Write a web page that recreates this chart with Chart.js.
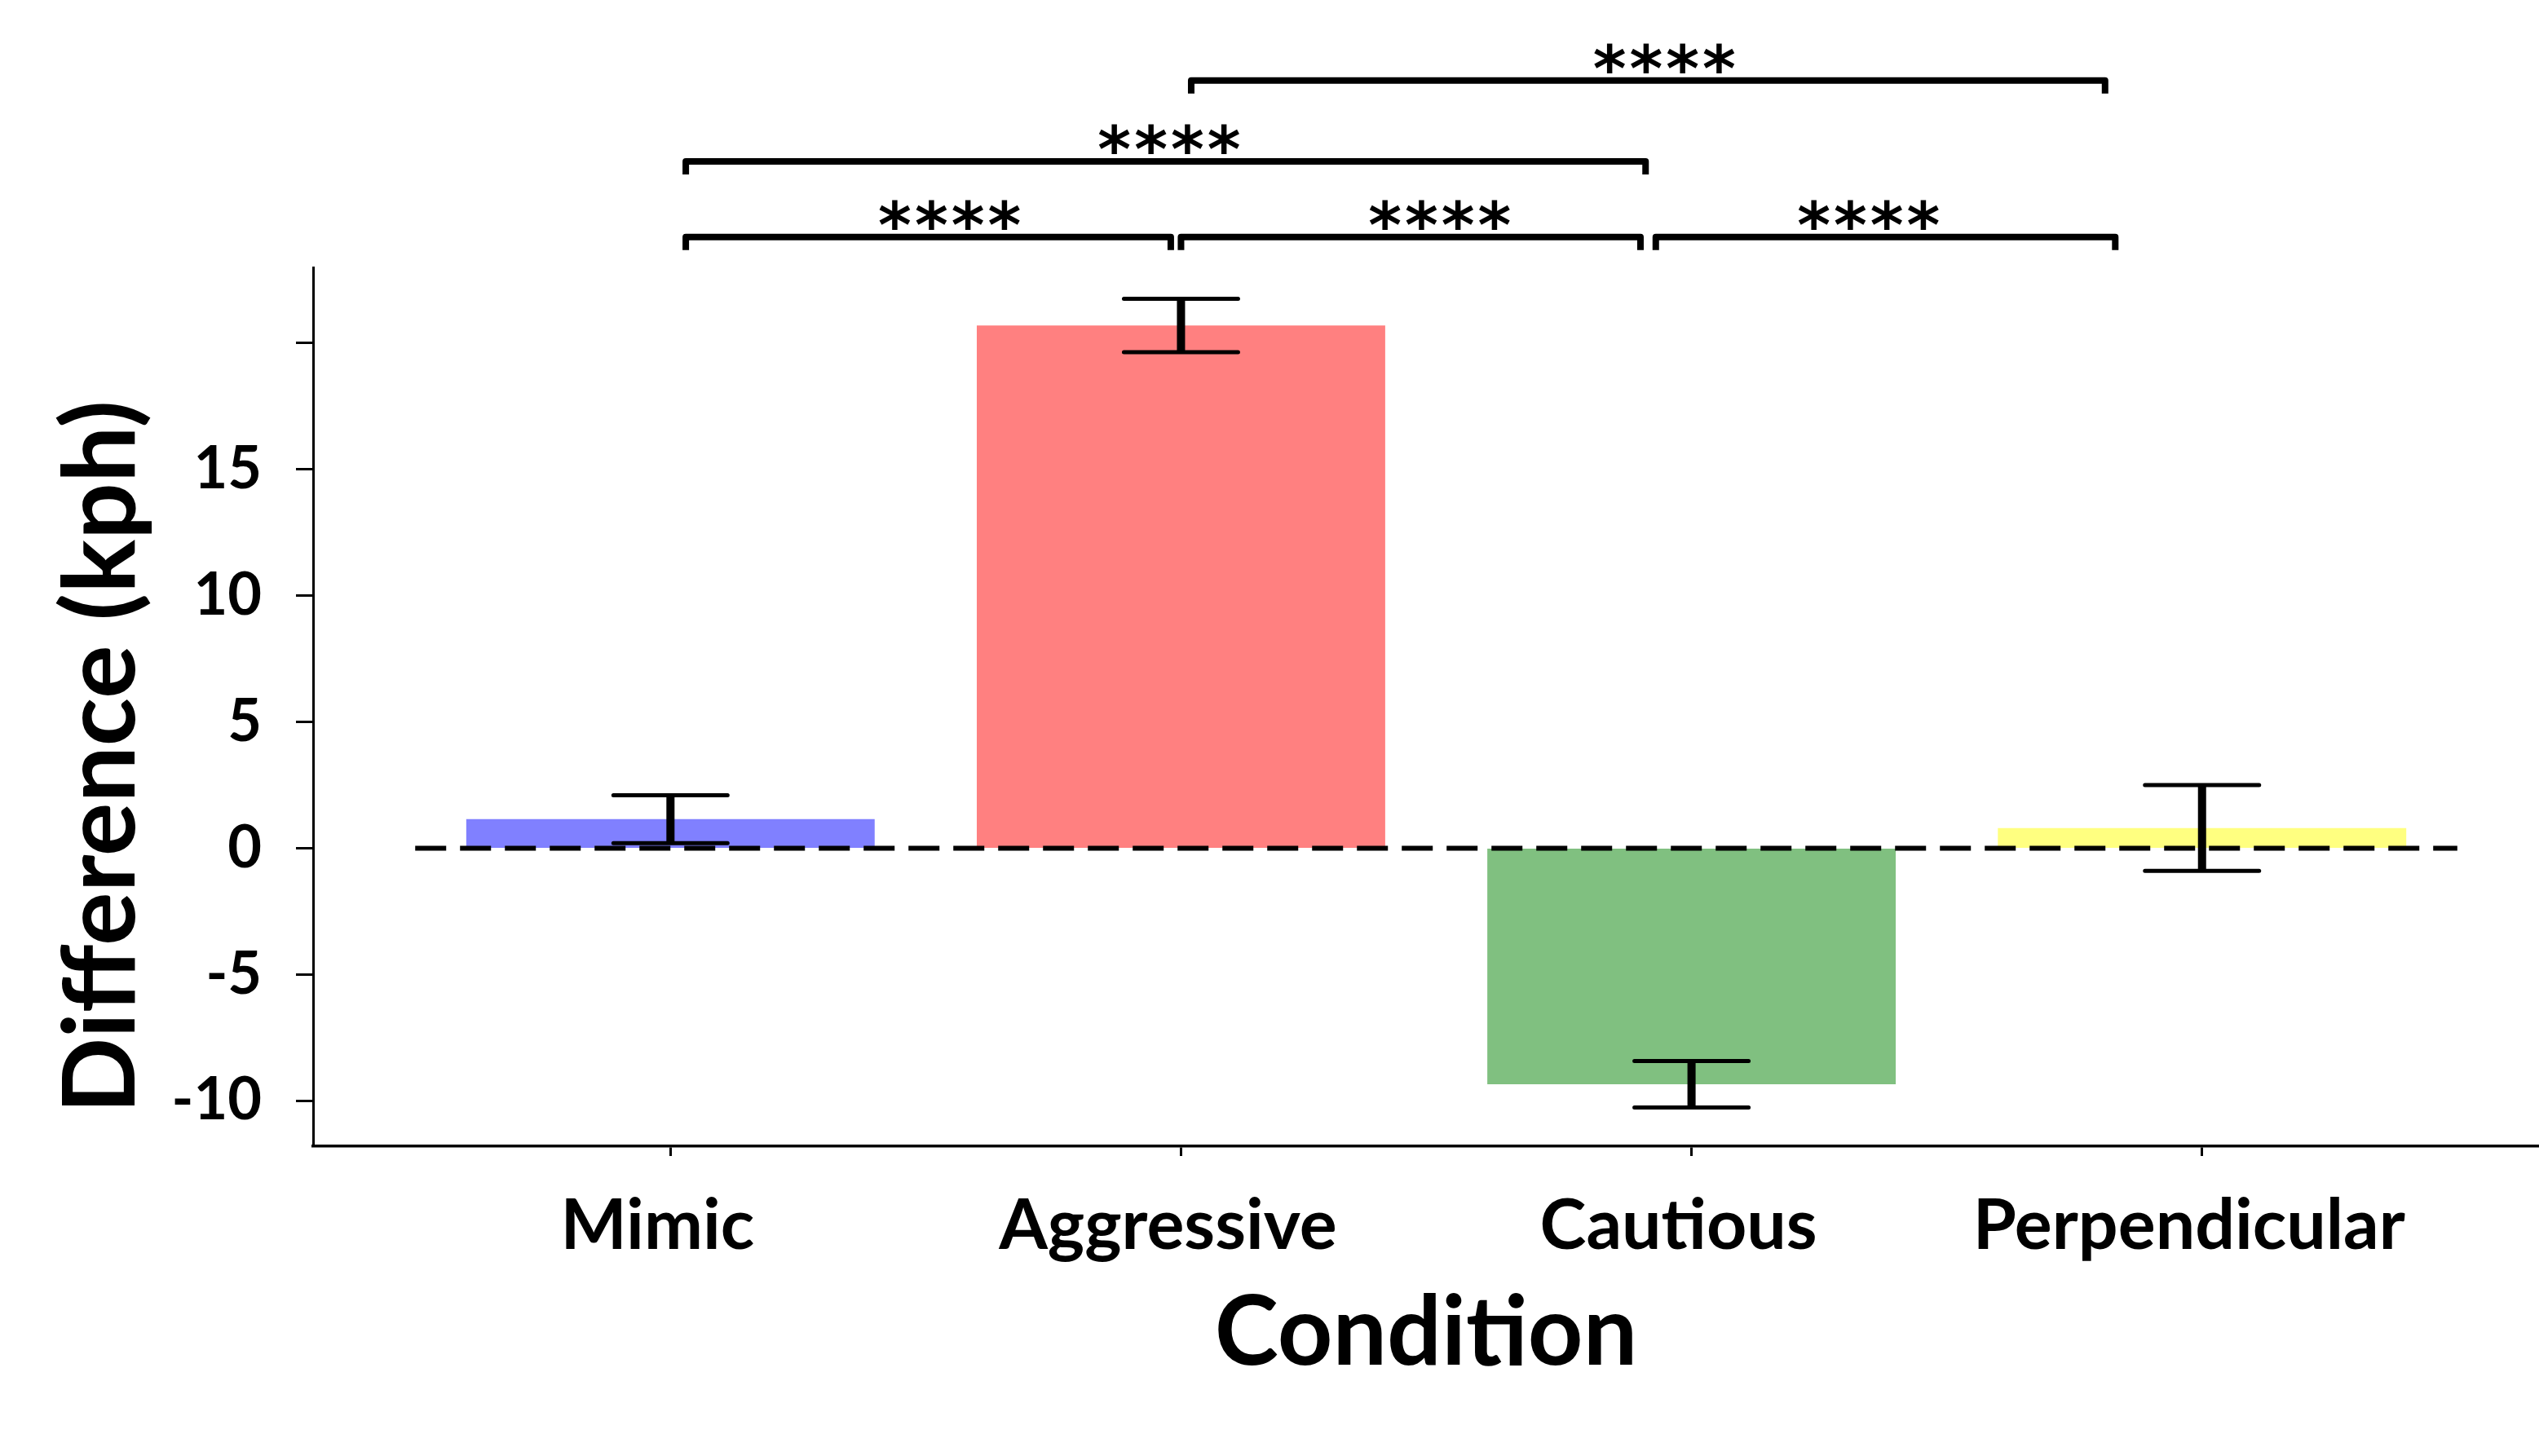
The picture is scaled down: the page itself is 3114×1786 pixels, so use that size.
<!DOCTYPE html>
<html>
<head>
<meta charset="utf-8">
<script src="https://cdn.jsdelivr.net/npm/chart.js@4.4.1/dist/chart.umd.min.js"></script>
<style>
  html, body { margin: 0; padding: 0; background: #fff; }
  #wrap { width: 3114px; height: 1786px; }
</style>
</head>
<body>
<div id="wrap"><canvas id="chart" width="3114" height="1786"></canvas></div>
<script>
// ---- datos ----
const conditions = ["Mimic", "Aggressive", "Cautious", "Perpendicular"];
const meanDiff = [1.15, 20.7, -9.35, 0.8];
const stdErr = [0.95, 1.06, 0.92, 1.7];
const barColors = ["#8080ff", "#ff8080", "#80c080", "#ffff80"];
const yTicks = [-10, -5, 0, 5, 10, 15, 20];

// brackets de significancia (x en unidades de categoría, nivel en kph)
const bracketFrom = [0.03, 1.0, 1.93, 0.03, 1.02];
const bracketTo = [0.98, 1.9, 2.83, 1.91, 2.81];
const bracketLevel = [24.2, 24.2, 24.2, 27.2, 30.4];
const bracketStarX = [0.55, 1.51, 2.35, 0.98, 1.95];
const bracketText = ["****", "****", "****", "****", "****"];

const LABEL_FONT = "Lato, 'Open Sans', sans-serif";

const overlay = {
  id: "overlay",
  afterDraw(chart) {
    const { ctx, scales: { x, y } } = chart;
    ctx.save();
    ctx.strokeStyle = "#000";
    ctx.fillStyle = "#000";

    // línea de cero punteada
    const y0 = y.getPixelForValue(0);
    ctx.lineWidth = 6;
    ctx.setLineDash([38, 17]);
    ctx.beginPath();
    ctx.moveTo(x.getPixelForValue(-0.5), y0);
    ctx.lineTo(x.getPixelForValue(3.5), y0);
    ctx.stroke();
    ctx.setLineDash([]);

    // barras de error
    meanDiff.forEach((m, i) => {
      const cx = x.getPixelForValue(i);
      const hi = y.getPixelForValue(m + stdErr[i]);
      const lo = y.getPixelForValue(m - stdErr[i]);
      ctx.lineCap = "butt";
      ctx.lineWidth = 10;
      ctx.beginPath(); ctx.moveTo(cx, hi); ctx.lineTo(cx, lo); ctx.stroke();
      ctx.lineCap = "round";
      ctx.lineWidth = 5;
      ctx.beginPath();
      ctx.moveTo(cx - 70, hi); ctx.lineTo(cx + 70, hi);
      ctx.moveTo(cx - 70, lo); ctx.lineTo(cx + 70, lo);
      ctx.stroke();
    });

    // brackets + asteriscos
    ctx.lineWidth = 8;
    ctx.lineJoin = "round";
    ctx.lineCap = "butt";
    ctx.font = "bold 78px 'DejaVu Sans'";
    ctx.letterSpacing = "4px";
    ctx.textAlign = "center";
    ctx.textBaseline = "alphabetic";
    bracketFrom.forEach((f, i) => {
      const x1 = x.getPixelForValue(f), x2 = x.getPixelForValue(bracketTo[i]);
      const by = y.getPixelForValue(bracketLevel[i]);
      ctx.beginPath();
      ctx.moveTo(x1, by + 16); ctx.lineTo(x1, by); ctx.lineTo(x2, by); ctx.lineTo(x2, by + 16);
      ctx.stroke();
      const m = ctx.measureText(bracketText[i]);
      const cy = by - 27;
      ctx.fillText(bracketText[i], x.getPixelForValue(bracketStarX[i]),
        cy + (m.actualBoundingBoxAscent - m.actualBoundingBoxDescent) / 2);
    });
    ctx.restore();
  }
};

new Chart(document.getElementById("chart"), {
  type: "bar",
  data: {
    datasets: [{
      data: meanDiff.map((v, i) => ({ x: i, y: v })),
      backgroundColor: barColors,
      borderWidth: 0,
      barPercentage: 0.8,
      categoryPercentage: 1,
    }],
  },
  options: {
    responsive: false, animation: false, devicePixelRatio: 1,
    layout: { padding: { top: 328, left: 0, right: 0, bottom: 0 } },
    plugins: { legend: { display: false }, tooltip: { enabled: false } },
    scales: {
      x: {
        type: "linear", min: -0.7, max: 3.66, offset: false,
        afterBuildTicks: s => { s.ticks = conditions.map((c, i) => ({ value: i })); },
        afterFit: s => { s.height = 380; },
        ticks: {
          callback: v => conditions[v], color: "#000", padding: 35, labelOffset: -16,
          autoSkip: false, maxRotation: 0,
          font: { family: LABEL_FONT, size: 86, weight: "bold" },
        },
        grid: { offset: false, drawOnChartArea: false, tickLength: 12, tickWidth: 3, tickColor: "#000" },
        border: { color: "#000", width: 3.5 },
        title: {
          display: true, text: "Condition", color: "#000",
          font: { family: LABEL_FONT, size: 118, weight: "bold", lineHeight: 1.2 },
          padding: { top: 0, bottom: 79 },
        },
      },
      y: {
        min: -11.8, max: 23,
        afterBuildTicks: s => { s.ticks = yTicks.map(v => ({ value: v })); },
        afterFit: s => { s.width = 384; },
        ticks: {
          callback: v => v === 20 ? "" : String(v), color: "#000", padding: 42,
          font: { family: LABEL_FONT, size: 72, weight: "bold" },
        },
        grid: { drawOnChartArea: false, tickLength: 21, tickWidth: 3, tickColor: "#000" },
        border: { color: "#000", width: 3 },
        title: {
          display: true, text: "Difference (kph)\u2002\u2002", color: "#000",
          font: { family: LABEL_FONT, size: 123, weight: "bold", lineHeight: 1.2 },
          padding: { top: 52, bottom: 0 },
        },
      },
    },
  },
  plugins: [overlay],
});
</script>
</body>
</html>
